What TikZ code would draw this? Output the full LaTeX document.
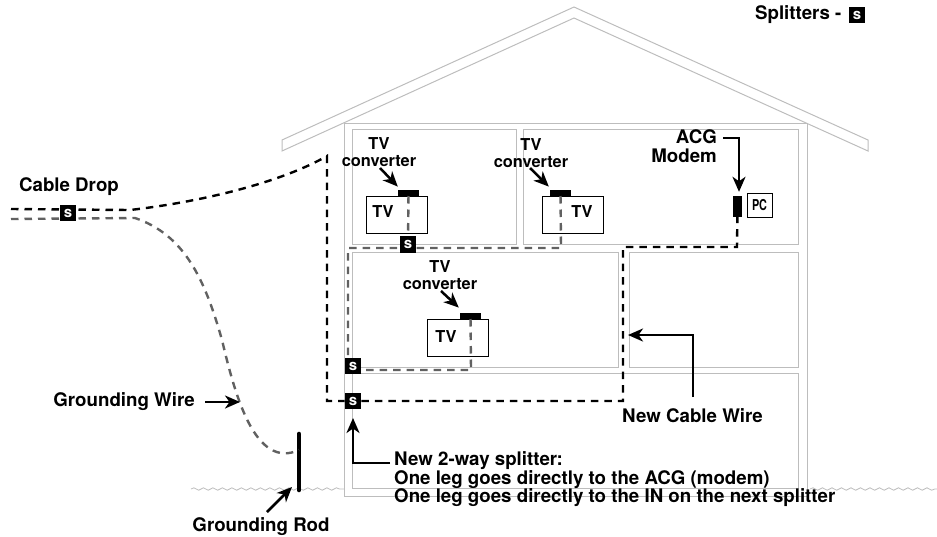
\documentclass[tikz,border=0pt]{standalone}
\usepackage{fontspec}
\setmainfont{TeX Gyre Heros}
\usetikzlibrary{positioning, arrows.meta, calc, decorations.pathmorphing}
\definecolor{wallgray}{gray}{0.74}
\definecolor{wiregray}{gray}{0.38}
\newcommand{\Splitter}{s}
\pgfdeclarelayer{front}
\pgfsetlayers{main,front}

\begin{document}
\begin{tikzpicture}[
  x=1pt, y=-1pt,
  wall/.style={draw=wallgray, line width=1pt},
  ground/.style={draw=wallgray, line width=0.8pt, decorate,
                 decoration={snake, segment length=9.5pt, amplitude=1.2pt}},
  newwire/.style={draw=black, line width=2.4pt, dash pattern=on 7.5pt off 6pt},
  oldwire/.style={draw=wiregray, line width=2.4pt, dash pattern=on 7.5pt off 6pt},
  arr/.style={-{Stealth[length=15pt, width=13pt, inset=4.5pt]}, line width=2.5pt},
  lbl/.style={font=\fontsize{18.7}{18}\selectfont\bfseries, inner sep=0pt},
  tvlbl/.style={font=\fontsize{16.4}{16}\selectfont\bfseries, inner sep=0pt},
  splitter/.style={fill=black, text=white, minimum size=16.5pt, inner sep=0pt,
                   font=\fontsize{15}{15}\selectfont\bfseries},
  tvbox/.style={draw, line width=1pt, fill=white, minimum width=61pt,
                minimum height=37pt, inner sep=0pt},
  conv/.style={fill=black, minimum width=21pt, minimum height=6pt, inner sep=0pt},
]
\useasboundingbox (0,0) rectangle (937,536);

\draw[wall] (282,140) -- (574,7) -- (868,140) -- (868,151) -- (574,18) -- (282,151) -- cycle;
\draw[wall] (344,123) -- (807,123) -- (807,496) -- (344,496) -- cycle;
\draw[wall] (352,129) rectangle (516,244);
\draw[wall] (523,129) rectangle (798,244);
\draw[wall] (352,252) rectangle (618,367);
\draw[wall] (629,252) rectangle (798,367);
\draw[wall] (352,373) rectangle (798,488);
\draw[ground] (191,489) -- (344,489);
\draw[ground] (810,489) -- (937,489);

\begin{pgfonlayer}{front}
\node[splitter] (sdrop) at (68,213) {\Splitter};
\node[splitter] (stop) at (408,244.5) {\Splitter};
\node[splitter] (smid) at (353,366) {\Splitter};
\node[splitter] (snew) at (353,401) {\Splitter};
\node[splitter] (skey) at (857,15) {\Splitter};
\end{pgfonlayer}
\node[lbl, left=7pt of skey] (keylbl) {Splitters -};

\node[tvbox] (tva) at (396.5,214.5) {};
\node[tvbox] (tvb) at (573,214.5) {};
\node[tvbox] (tvc) at (458,338) {};
\node[conv, anchor=south] (cva) at (408.5,196) {};
\node[conv, anchor=south] (cvb) at (560.5,196) {};
\node[conv, anchor=south] (cvc) at (470.5,319) {};
\node[tvlbl] (tvalbl) at (383,212) {TV};
\node[tvlbl] (tvblbl) at (582,212) {TV};
\node[tvlbl] (tvclbl) at (446,337) {TV};

\node[tvlbl] (cvatv) at (379,144) {TV};
\node[tvlbl] (cvatxt) at (379,161) {converter};
\node[tvlbl] (cvbtv) at (531,145) {TV};
\node[tvlbl] (cvbtxt) at (531,162) {converter};
\node[tvlbl] (cvctv) at (440,267) {TV};
\node[tvlbl] (cvctxt) at (440,284) {converter};

\node[fill=black, minimum width=8.5pt, minimum height=21pt, inner sep=0pt] (modem) at (737.5,206.5) {};
\node[draw, line width=1pt, minimum width=25pt, minimum height=24pt, inner sep=0pt,
      font=\fontsize{15}{15}\selectfont\bfseries] (pc) at (759.5,205) {\scalebox{0.72}[1]{PC}};
\node[lbl, anchor=east] (acg) at (717,137) {ACG};
\node[lbl, anchor=east] (modemlbl) at (717,156) {Modem};

\node[lbl] (droplbl) at (69,187) {Cable Drop};
\node[lbl, anchor=east] (wirelbl) at (195,402) {Grounding Wire};
\node[lbl] (rodlbl) at (261,527) {Grounding Rod};
\node[lbl, anchor=west] (newlbl) at (622,416) {New Cable Wire};
\node[lbl, anchor=west] (nsa) at (394,461) {New 2-way splitter:};
\node[lbl, anchor=west] (nsb) at (394,479.5) {One leg goes directly to the ACG (modem)};
\node[lbl, anchor=west] (nsc) at (394,498) {One leg goes directly to the IN on the next splitter};

\coordinate (dropa) at (11,209);
\coordinate (dropb) at (11,219);
\coordinate (rodtop) at (299,434);
\coordinate (rodbot) at (299,490);

\draw[line width=4.6pt, line cap=round] (rodtop) -- (rodbot);

\draw[newwire] (dropa) -- (130,210) .. controls (200,202) and (280,183) .. (327,156)
  -- (327,401) -- (snew) -- (623,401) -- (623,247) -- (737,247) -- (modem);
\draw[oldwire] (dropb) -- (135,218) .. controls (185,235) and (205,280) .. (222,340)
  .. controls (235,395) and (255,470) .. (299,450);
\draw[oldwire] (cva) -- (stop);
\draw[oldwire] (cvb) -- (561,248) -- (348,248) -- (348,366) -- (smid);
\draw[oldwire] (cvc) -- (471,370) -- (353,370);

\draw[arr] (380,168) -- ($(cva.north west)+(0,-3)$);
\draw[arr] (530,168) -- ($(cvb.north west)+(-1,-3)$);
\draw[arr] (441,291) -- ($(cvc.north west)+(-1,-5)$);
\draw[arr] (acg.east) ++(6,1) -| ($(modem.north)+(1.5,-4)$);
\draw[arr] (wirelbl.east) ++(10,0) -- (240,402);
\draw[arr] (267,512) -- (292,487);
\draw[arr] (693,397) |- (628,335);
\draw[arr] (nsa.west) ++(-4,2) -| (353,418);
\end{tikzpicture}
\end{document}
